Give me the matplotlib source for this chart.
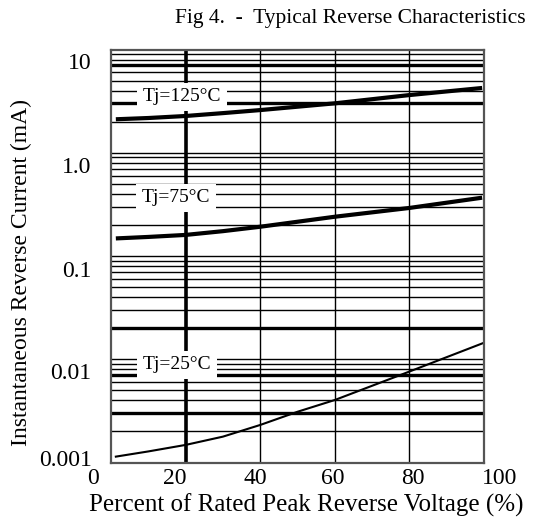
import matplotlib
matplotlib.use("Agg")
import matplotlib.pyplot as plt
from matplotlib.transforms import ScaledTranslation

# ---- data ----
x_125 = [1.3, 10, 20, 30, 40, 60, 80, 99.5]
y_125 = [2.11, 2.17, 2.27, 2.42, 2.59, 3.01, 3.62, 4.24]

x_75 = [1.3, 10, 20, 30, 40, 60, 80, 99.5]
y_75 = [0.148, 0.153, 0.160, 0.174, 0.192, 0.240, 0.292, 0.367]

x_25 = [1.3, 10, 20, 30, 40, 50, 60, 80, 100]
y_25 = [0.00114, 0.00128, 0.00148, 0.00178, 0.00231, 0.0031, 0.00403, 0.0076, 0.01445]

curve_labels = ["Tj=125°C", "Tj=75°C", "Tj=25°C"]
label_x = [19, 17.5, 17.8]
label_y = [3.47, 0.365, 0.0088]

x_ticks = [0, 20, 40, 60, 80, 100]
x_tick_labels = ["0", "20", "40", "60", "80", "100"]
y_ticks = [0.001, 0.01, 0.1, 1, 10]
y_tick_labels = ["0.001", "0.01", "0.1", "1.0", "10"]

title = "Fig 4.  -  Typical Reverse Characteristics"
xlabel = "Percent of Rated Peak Reverse Voltage (%)"
ylabel = "Instantaneous Reverse Current (mA)"

plt.rcParams['font.family'] = ['Liberation Serif', 'DejaVu Serif']

W, H = 534, 524
fig = plt.figure(figsize=(W / 100, H / 100), dpi=100)
ax = fig.add_axes([111 / W, 1 - 462.5 / H, (484 - 111) / W, (462.5 - 49.5) / H])
ax.set_yscale('log')
ax.set_xlim(0, 100)
ax.set_ylim(0.001, 10)

# grid
thick_vals = [7, 3, 0.02, 0.007, 0.003]
for dec in [0.001, 0.01, 0.1, 1]:
    for k in range(1, 10):
        v = dec * k
        if v <= 0.001 or v >= 10:
            continue
        thick = any(abs(v - t) / t < 1e-6 for t in thick_vals)
        ax.axhline(v, color='black', lw=2.4 if thick else 1.0, zorder=1)
for xv in [20, 40, 60, 80]:
    ax.axvline(xv, color='black', lw=2.6 if xv == 20 else 1.0, zorder=1)

# curves
ax.plot(x_125, y_125, color='black', lw=3.0, zorder=5, solid_capstyle='butt')
ax.plot(x_75, y_75, color='black', lw=3.0, zorder=5, solid_capstyle='butt')
ax.plot(x_25, y_25, color='black', lw=1.5, zorder=5)

for t, lx, ly in zip(curve_labels, label_x, label_y):
    ax.text(lx, ly, t, ha='center', va='center', fontsize=14, zorder=4,
            bbox=dict(facecolor='white', edgecolor='none', pad=4))

for s in ax.spines.values():
    s.set_color('#555555')
    s.set_linewidth(1.6)
    s.set_zorder(6)

ax.set_xticks(x_ticks)
ax.set_xticklabels(x_tick_labels, fontsize=17)
ax.set_yticks(y_ticks)
ax.set_yticklabels(y_tick_labels, fontsize=17)
ax.yaxis.set_minor_locator(matplotlib.ticker.NullLocator())
ax.tick_params(axis='both', which='both', length=0)
ax.tick_params(axis='x', pad=4)
ax.tick_params(axis='y', pad=14)

x_off = [-18, -11, -5, -2, 3, 16]
for lab, dx in zip(ax.get_xticklabels(), x_off):
    lab.set_transform(lab.get_transform() + ScaledTranslation(dx / 100, 0, fig.dpi_scale_trans))
y_off = [5, -12, -13, -12, -11]
for lab, dy in zip(ax.get_yticklabels(), y_off):
    lab.set_transform(lab.get_transform() + ScaledTranslation(0, dy / 100, fig.dpi_scale_trans))

fig.text(350 / W, 1 - 18 / H, title, ha='center', va='center', fontsize=15.5)
fig.text(306 / W, 1 - 505 / H, xlabel, ha='center', va='center', fontsize=18)
fig.text(21 / W, 1 - 272 / H, ylabel, ha='center', va='center', rotation=90, fontsize=17)

fig.savefig("out.png", dpi=100)
